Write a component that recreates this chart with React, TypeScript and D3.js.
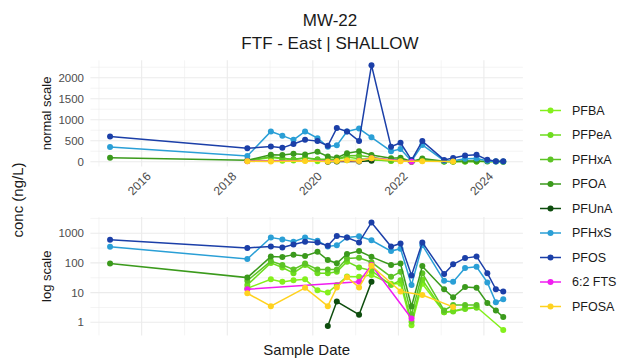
import React from 'react'
import * as d3 from 'd3'

// sample dates
const sampleDates = [
  '2015-04-06', '2018-06-21', '2019-01-08', '2019-04-16', '2019-07-20', '2019-10-27',
  '2020-02-10', '2020-05-08', '2020-07-24', '2020-10-19', '2021-01-30', '2021-05-16',
  '2021-10-30', '2022-01-19', '2022-04-23', '2022-07-24', '2023-01-26', '2023-04-13',
  '2023-07-24', '2023-10-30', '2024-01-30', '2024-04-12', '2024-06-14',
]

// concentrations in ng/L, null = not reported
const PFBA = [null, 14, 28, 23, 26, 28, 12, 10, 18, 35, 34, 39, 20, 20, 0.8, 20, 2.2, 2.4, 3.0, 3.3, null, null, 0.55]
const PFPeA = [null, 18, 100, 70, 45, 85, 45, 45, 50, 110, 70, 55, 18, 26, 1.05, 27, 2.2, 2.3, 2.8, 3.1, null, null, null]
const PFHxA = [null, 25, 115, 85, 60, 95, 60, 60, 60, 140, 150, 105, 34, 50, 1.8, 45, 2.5, 3.8, 3.8, 3.8, null, null, null]
const PFOA = [95, 32, 163, 158, 190, 170, 238, 125, 97, 200, 250, 160, 85, 95, 3.4, 78, 13, 7, 15.5, 14.5, 4.5, 2.5, 1.5]
const PFUnA = [null, null, null, null, null, null, null, 0.75, 5, null, 1.8, 23, null, null, null, null, null, null, null, null, null, null, null]
const PFHxS = [350, 135, 720, 620, 520, 720, 560, 355, 390, 720, 790, 580, 250, 300, 18, 400, 25, 23, 68, 74, 22, 4.7, 6]
const PFOS = [600, 320, 360, 330, 420, 520, 490, 380, 800, 720, 490, 2300, 355, 450, 38, 490, 42, 90, 145, 165, 45, 13, 11]
const FTS62 = [null, 13, null, null, null, null, null, null, null, null, 23, 85, null, null, 1.35, null, null, null, null, null, null, null, null]
const PFOSA = [null, 9.5, 3.5, null, null, 14.5, null, 3.5, 15, 33, 15, 80, null, 11, null, 8.3, null, 3.3, null, null, null, null, null]

const analytes = ['PFBA', 'PFPeA', 'PFHxA', 'PFOA', 'PFUnA', 'PFHxS', 'PFOS', '6:2 FTS', 'PFOSA']
const seriesValues = [PFBA, PFPeA, PFHxA, PFOA, PFUnA, PFHxS, PFOS, FTS62, PFOSA]
const colors = ['#84F01C', '#6EDC1E', '#5DC425', '#3B9A1C', '#0E4D0E', '#2A9FD6', '#1B3FA8', '#F01EF0', '#FFD21F']

const topTicks = [0, 500, 1000, 1500, 2000]
const logTicks = [1, 10, 100, 1000]

const W = 620
const H = 358
const plotLeft = 90.4
const plotRight = 522.9
const topPanel = { top: 60.3, bottom: 166.5 }
const logPanel = { top: 217.1, bottom: 335.4 }
const font = "'Liberation Sans', Arial, sans-serif"
const grid = '#EBEBEB'
const tickColor = '#4D4D4D'

export default function App() {
  const parse = d3.timeParse('%Y-%m-%d')
  const dates = sampleDates.map(s => parse(s) as Date)
  const [dMin, dMax] = d3.extent(dates) as [Date, Date]
  const pad = (+dMax - +dMin) * 0.05
  const x = d3.scaleTime()
    .domain([new Date(+dMin - pad), new Date(+dMax + pad)])
    .range([plotLeft, plotRight])

  const all = seriesValues.flat().filter(v => v != null) as number[]
  const vMin = d3.min(all) as number
  const vMax = d3.max(all) as number
  const yPad = (vMax - vMin) * 0.05
  const yLin = d3.scaleLinear().domain([vMin - yPad, vMax + yPad]).range([topPanel.bottom, topPanel.top])
  const lMin = Math.log10(vMin)
  const lMax = Math.log10(vMax)
  const lPad = (lMax - lMin) * 0.05
  const yLog = d3.scaleLog().domain([10 ** (lMin - lPad), 10 ** (lMax + lPad)]).range([logPanel.bottom, logPanel.top])

  const [x0, x1] = x.domain()
  const majorYears = d3.timeYear.every(2)!.range(x0, x1)
  const minorYears = d3.timeYear.range(x0, x1).filter(d => d.getFullYear() % 2 === 1)

  const linMinor = d3.range(250, 2500, 500).filter(v => v > yLin.domain()[0] && v < yLin.domain()[1])
  const logMinor = [-0.5, 0.5, 1.5, 2.5, 3.5].map(e => 10 ** e).filter(v => v > yLog.domain()[0] && v < yLog.domain()[1])

  const series = seriesValues.map((vals, i) => ({
    name: analytes[i],
    color: colors[i],
    pts: dates.map((d, j) => ({ d, v: vals[j] })).filter(p => p.v != null) as { d: Date; v: number }[],
  }))

  const panel = (y: any, panelTop: number, panelBottom: number, hMajor: number[], hMinor: number[], fmt: (v: number) => string) => {
    const line = d3.line<{ d: Date; v: number }>().x(p => x(p.d)).y(p => y(p.v))
    return (
      <g>
        {minorYears.map(d => (
          <line key={'vm' + +d} x1={x(d)} x2={x(d)} y1={panelTop} y2={panelBottom} stroke={grid} strokeWidth={0.55} />
        ))}
        {hMinor.map(v => (
          <line key={'hm' + v} x1={plotLeft} x2={plotRight} y1={y(v)} y2={y(v)} stroke={grid} strokeWidth={0.55} />
        ))}
        {majorYears.map(d => (
          <line key={'vM' + +d} x1={x(d)} x2={x(d)} y1={panelTop} y2={panelBottom} stroke={grid} strokeWidth={1.1} />
        ))}
        {hMajor.map(v => (
          <line key={'hM' + v} x1={plotLeft} x2={plotRight} y1={y(v)} y2={y(v)} stroke={grid} strokeWidth={1.1} />
        ))}
        {hMajor.map(v => (
          <text key={'t' + v} x={84} y={y(v)} dy="0.35em" textAnchor="end" fontSize={11.5} fill={tickColor}>{fmt(v)}</text>
        ))}
        {series.map(s => (
          <g key={s.name}>
            <path d={line(s.pts) || ''} fill="none" stroke={s.color} strokeWidth={1.5} />
            {s.pts.map((p, k) => (
              <circle key={k} cx={x(p.d)} cy={y(p.v)} r={3} fill={s.color} />
            ))}
          </g>
        ))}
      </g>
    )
  }

  return (
    <svg width={W} height={H} style={{ position: 'absolute', left: 0, top: 0 }} fontFamily={font}>
      <rect width={W} height={H} fill="#fff" />
      <text x={330} y={26} textAnchor="middle" fontSize={17} fill="#1a1a1a">MW-22</text>
      <text x={330} y={49} textAnchor="middle" fontSize={17} fill="#1a1a1a">FTF - East | SHALLOW</text>

      {panel(yLin, topPanel.top, topPanel.bottom, topTicks, linMinor, d3.format('d'))}
      {panel(yLog, logPanel.top, logPanel.bottom, logTicks, logMinor, d3.format('d'))}

      {majorYears.map(d => (
        <text key={'xl' + +d} transform={`translate(${x(d) + 4},${171}) rotate(-45)`} dy="0.71em"
          textAnchor="end" fontSize={12} fill={tickColor}>{d.getFullYear()}</text>
      ))}

      <text transform={`translate(51,${(topPanel.top + topPanel.bottom) / 2}) rotate(-90)`} textAnchor="middle"
        fontSize={13} fill="#1a1a1a">normal scale</text>
      <text transform={`translate(51,${(logPanel.top + logPanel.bottom) / 2}) rotate(-90)`} textAnchor="middle"
        fontSize={13} fill="#1a1a1a">log scale</text>
      <text transform={`translate(23,200) rotate(-90)`} textAnchor="middle" fontSize={15} fill="#1a1a1a">conc (ng/L)</text>
      <text x={(plotLeft + plotRight) / 2} y={355} textAnchor="middle" fontSize={15} fill="#1a1a1a">Sample Date</text>

      {analytes.map((a, i) => {
        const ly = 110.5 + i * 24.5
        return (
          <g key={a}>
            <line x1={540} x2={561} y1={ly} y2={ly} stroke={colors[i]} strokeWidth={1.5} />
            <circle cx={550.5} cy={ly} r={3} fill={colors[i]} />
            <text x={572} y={ly} dy="0.35em" fontSize={12.5} fill="#1a1a1a">{a}</text>
          </g>
        )
      })}
    </svg>
  )
}
